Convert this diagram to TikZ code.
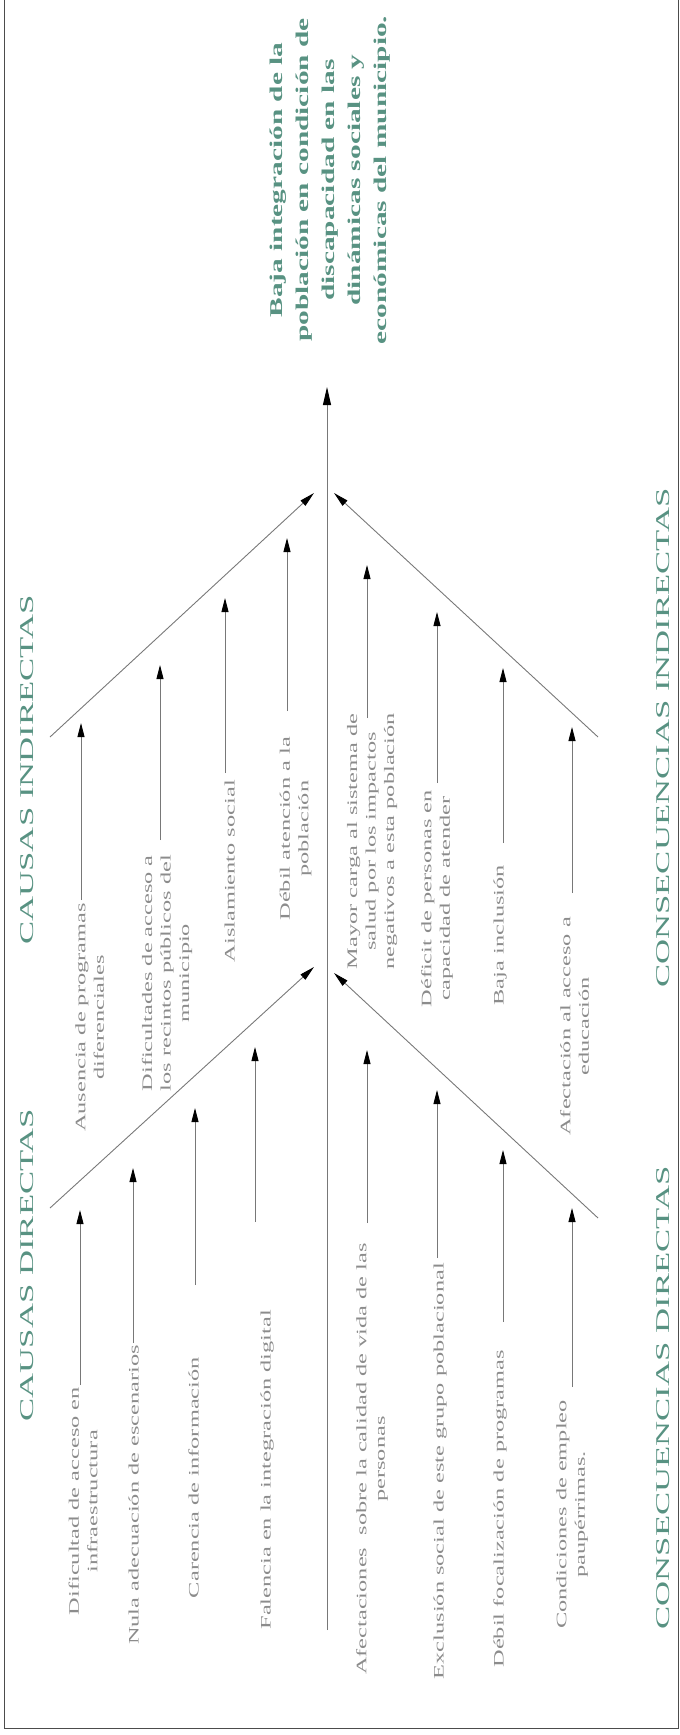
\documentclass[tikz,border=0pt]{standalone}
\usepackage{fontspec}
\setmainfont{Liberation Serif}
\usepackage{graphicx}
\usetikzlibrary{arrows.meta,calc}
\definecolor{txtgray}{RGB}{140,140,140}
\definecolor{tealtxt}{RGB}{88,146,130}
\definecolor{linegray}{RGB}{120,120,120}
\newcommand{\smalltxt}[1]{\scalebox{1.68}[1]{\fontsize{14.5pt}{18.5pt}\selectfont\begin{tabular}{@{}c@{}}#1\end{tabular}}}
\newcommand{\headtxt}[1]{\scalebox{1.78}[1]{\fontsize{19.5pt}{23pt}\selectfont #1}}
\newcommand{\titletxt}[1]{\scalebox{1.63}[1]{\fontsize{18pt}{26pt}\selectfont\bfseries\begin{tabular}{@{}c@{}}#1\end{tabular}}}
\begin{document}
\begin{tikzpicture}[x=1pt,y=-1pt,
  lbl/.style={rotate=90, inner sep=0pt, anchor=east, text=txtgray},
  head/.style={rotate=90, inner sep=0pt, text=tealtxt},
  ttl/.style={rotate=90, inner sep=0pt, text=tealtxt},
  arr/.style={draw=linegray, line width=0.9pt, -{Triangle[length=14pt,width=7pt,color=black]}},
  bone/.style={draw=linegray, line width=0.9pt, -{Triangle[length=15pt,width=7pt,color=black]}},
  spinearr/.style={draw=linegray, line width=0.9pt, -{Triangle[length=18pt,width=8pt,color=black]}}]
\useasboundingbox (0,0) rectangle (680,1735);
\draw[line width=1pt, black!70] (4.5,0) -- (4.5,1728.2) -- (678.8,1728.2) -- (678.8,0);

% title
\node[ttl] (title) at (329.5,180) {\titletxt{Baja integración de la\\población en condición de\\discapacidad en las\\dinámicas sociales y\\económicas del municipio.}};

% headers
\node[head] (hci) at (27,770) {\headtxt{CAUSAS INDIRECTAS}};
\node[head] (hcd) at (27,1265) {\headtxt{CAUSAS DIRECTAS}};
\node[head] (hqi) at (663,738) {\headtxt{CONSECUENCIAS INDIRECTAS}};
\node[head] (hqd) at (663,1398) {\headtxt{CONSECUENCIAS DIRECTAS}};

% spine
\coordinate (spb) at (327,1630);
\coordinate (spt) at (327,387);
\draw[spinearr] (spb) -- (spt);

% bones
\coordinate (ul-s) at (50,737);  \coordinate (ul-e) at (314,493);
\coordinate (ur-s) at (598,737); \coordinate (ur-e) at (334,493);
\coordinate (ll-s) at (50,1208); \coordinate (ll-e) at (314,967);
\coordinate (lr-s) at (598,1218);\coordinate (lr-e) at (334,973);
\draw[bone] (ul-s) -- (ul-e);
\draw[bone] (ur-s) -- (ur-e);
\draw[bone] (ll-s) -- (ll-e);
\draw[bone] (lr-s) -- (lr-e);

% upper left: causas indirectas
\node[lbl] (ul1) at (91,903) {\smalltxt{Ausencia de programas\\diferenciales}};
\node[lbl] (ul2) at (167,855) {\smalltxt{Dificultades de acceso a\\los recintos públicos del\\municipio}};
\node[lbl] (ul3) at (231,780) {\smalltxt{Aislamiento social}};
\node[lbl] (ul4) at (295.5,737) {\smalltxt{Débil atención a la\\población}};
\coordinate (tul1) at (81,723);
\coordinate (tul2) at (160,665);
\coordinate (tul3) at (225,598);
\coordinate (tul4) at (287,538);
\draw[arr] ($(tul1 |- ul1.east)+(0,-3)$) -- (tul1);
\draw[arr] ($(tul2 |- ul2.east)+(0,-15)$) -- (tul2);
\draw[arr] ($(tul3 |- ul3.east)+(0,-7)$) -- (tul3);
\draw[arr] ($(tul4 |- ul4.east)+(0,-26)$) -- (tul4);

% upper right: consecuencias indirectas
\node[lbl] (ur1) at (372,713) {\smalltxt{Mayor carga al sistema de\\salud por los impactos\\negativos a esta población}};
\node[lbl] (ur2) at (437,790) {\smalltxt{Déficit de personas en\\capacidad de atender}};
\node[lbl] (ur3) at (500,865) {\smalltxt{Baja inclusión}};
\node[lbl] (ur4) at (576,917) {\smalltxt{Afectación al acceso a\\educación}};
\coordinate (tur1) at (367,565);
\coordinate (tur2) at (437,612);
\coordinate (tur3) at (503,668);
\coordinate (tur4) at (572,727);
\draw[arr] ($(tur1 |- ur1.east)+(0,5)$) -- (tur1);
\draw[arr] ($(tur2 |- ur2.east)+(0,-7)$) -- (tur2);
\draw[arr] ($(tur3 |- ur3.east)+(0,-22)$) -- (tur3);
\draw[arr] ($(tur4 |- ur4.east)+(0,-24)$) -- (tur4);

% lower left: causas directas
\node[lbl] (ll1) at (84.5,1387) {\smalltxt{Dificultad de acceso en\\infraestructura}};
\node[lbl] (ll2) at (135,1345) {\smalltxt{Nula adecuación de escenarios}};
\node[lbl] (ll3) at (195,1357) {\smalltxt{Carencia de información}};
\node[lbl] (ll4) at (267,1310) {\smalltxt{Falencia en la integración digital}};
\coordinate (tll1) at (80,1210);
\coordinate (tll2) at (133,1168);
\coordinate (tll3) at (195,1108);
\coordinate (tll4) at (255,1047);
\draw[arr] ($(tll1 |- ll1.east)+(0,-2)$) -- (tll1);
\draw[arr] ($(tll2 |- ll2.east)+(0,-2)$) -- (tll2);
\draw[arr] ($(tll3 |- ll3.east)+(0,-72)$) -- (tll3);
\draw[arr] ($(tll4 |- ll4.east)+(0,-88)$) -- (tll4);

% lower right: consecuencias directas
\node[lbl] (lr1) at (372,1243) {\smalltxt{Afectaciones~ sobre la calidad de vida de las\\personas}};
\node[lbl] (lr2) at (440,1263) {\smalltxt{Exclusión social de este grupo poblacional}};
\node[lbl] (lr3) at (500,1350) {\smalltxt{Débil focalización de programas}};
\node[lbl] (lr4) at (572,1400) {\smalltxt{Condiciones de empleo\\paupérrimas.}};
\coordinate (tlr1) at (367,1050);
\coordinate (tlr2) at (437,1090);
\coordinate (tlr3) at (503,1150);
\coordinate (tlr4) at (572,1208);
\draw[arr] ($(tlr1 |- lr1.east)+(0,-20)$) -- (tlr1);
\draw[arr] ($(tlr2 |- lr2.east)+(0,-5)$) -- (tlr2);
\draw[arr] ($(tlr3 |- lr3.east)+(0,-28)$) -- (tlr3);
\draw[arr] ($(tlr4 |- lr4.east)+(0,-13)$) -- (tlr4);
\end{tikzpicture}
\end{document}
